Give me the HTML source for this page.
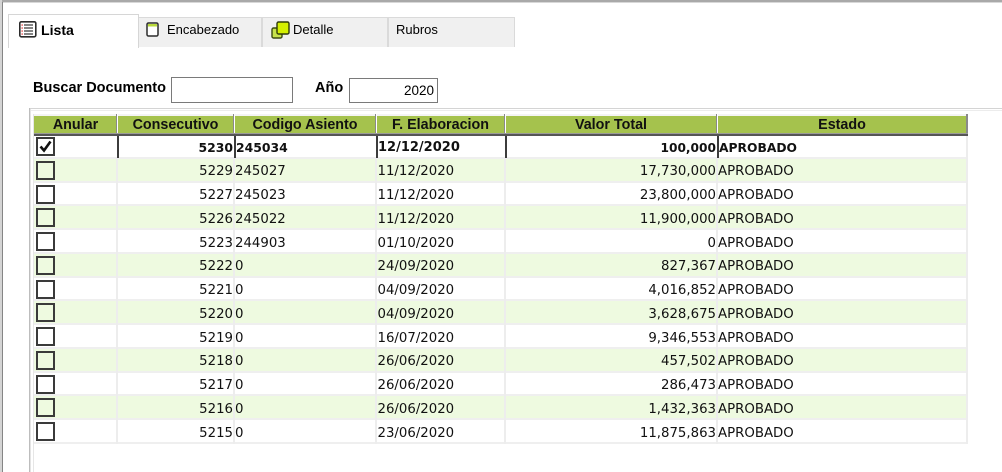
<!DOCTYPE html>
<html><head><meta charset="utf-8">
<style>
*{margin:0;padding:0;box-sizing:border-box}
html,body{width:1002px;height:472px;overflow:hidden;background:#fff;position:relative;font-family:"Liberation Sans",sans-serif}
.a{position:absolute}
.tab{position:absolute;top:17px;height:30px;background:#f0f0f0;border:1px solid #dadada;border-bottom:none}
.tl{position:absolute;font-size:13px;color:#000;line-height:16px;top:22px}
.lbl{position:absolute;font-weight:bold;font-size:14.5px;line-height:18px;color:#000}
.hd{position:absolute;top:116px;height:17px;background:#a5c24d;font-weight:bold;font-size:14.3px;line-height:18px;text-align:center;color:#111;overflow:hidden;white-space:nowrap}
.hs{position:absolute;top:114px;height:21px;width:1px;background:#8a8a8a}
.hw{position:absolute;top:114px;height:21px;width:1px;background:#fff}
.row{position:absolute;left:34px;width:933px;height:23.75px}
.c{position:absolute;top:1.5px;height:22px;line-height:24.5px;font-family:"DejaVu Sans",sans-serif;font-size:13.3px;color:#111;white-space:nowrap}
.b{top:0;font-weight:bold}
.r{text-align:right}
.cb{position:absolute;left:2px;top:2px;width:19px;height:19px;border:2px solid #3a3a3a}
.sep{position:absolute;left:0;bottom:0;width:933px;height:2px;background:#efefef}
.vl{position:absolute;width:2px;background:#ededed}
.dk{position:absolute;top:136px;height:22px;width:2px;background:#3c3c3c}
</style></head><body>
<!-- window chrome -->
<div class="a" style="left:0;top:0;width:1002px;height:2px;background:#a9a9a9"></div>
<div class="a" style="left:0;top:2px;width:1002px;height:1px;background:#d8d8d8"></div>
<div class="a" style="left:0;top:0;width:2px;height:472px;background:#d4d4d4"></div>
<div class="a" style="left:2px;top:2px;width:1px;height:470px;background:#858585"></div>

<!-- tabs -->
<div class="a" style="left:138px;top:46px;width:377px;height:1px;background:#dadada"></div>
<div class="tab" style="left:138px;width:124px"></div>
<div class="tab" style="left:262px;width:126px"></div>
<div class="tab" style="left:388px;width:127px"></div>
<div class="a" style="left:8px;top:14px;width:131px;height:34px;background:#fff;border:1px solid #d6d6d6;border-bottom:none"></div>

<!-- Lista icon -->
<svg class="a" style="left:19px;top:21px" width="18" height="17" viewBox="0 0 18 17">
<rect x="0.8" y="0.8" width="16" height="15" rx="1.5" fill="#fff" stroke="#2b2b2b" stroke-width="1.6"/>
<g stroke="#333" stroke-width="1.2"><line x1="5" y1="4" x2="14" y2="4"/><line x1="5" y1="7" x2="14" y2="7"/><line x1="5" y1="10" x2="14" y2="10"/><line x1="5" y1="13" x2="14" y2="13"/></g>
<g fill="#e03030"><rect x="2.5" y="3.4" width="1.3" height="1.3"/><rect x="2.5" y="6.4" width="1.3" height="1.3"/><rect x="2.5" y="9.4" width="1.3" height="1.3"/><rect x="2.5" y="12.4" width="1.3" height="1.3"/></g>
</svg>
<div class="tl" style="left:41px;font-weight:bold;font-size:14.1px">Lista</div>

<!-- Encabezado icon -->
<svg class="a" style="left:146px;top:22px" width="13" height="15" viewBox="0 0 13 15">
<rect x="1" y="1" width="11" height="13" rx="1.5" fill="#fff" stroke="#2b2b2b" stroke-width="1.5"/>
<rect x="2" y="2" width="9" height="2.5" fill="#b8d93a"/>
</svg>
<div class="tl" style="left:167px">Encabezado</div>

<!-- Detalle icon -->
<svg class="a" style="left:271px;top:21px" width="20" height="19" viewBox="0 0 20 19">
<rect x="1" y="7" width="10" height="10" rx="1.5" fill="#c6e24a" stroke="#3b4a10" stroke-width="1.4"/>
<rect x="6" y="1" width="12" height="12" rx="1.5" fill="#d4f000" stroke="#2e3a08" stroke-width="1.4"/>
</svg>
<div class="tl" style="left:293px">Detalle</div>
<div class="tl" style="left:396px">Rubros</div>

<!-- search -->
<div class="lbl" style="left:33px;top:79px">Buscar Documento</div>
<div class="a" style="left:171px;top:77px;width:122px;height:26px;border:1px solid #7a7a7a;background:#fff"></div>
<div class="lbl" style="left:315px;top:79px">Año</div>
<div class="a" style="left:349px;top:78px;width:89px;height:25px;border:1px solid #7a7a7a;background:#fff"></div>
<div class="a" style="left:352px;top:82px;width:82px;text-align:right;font-size:13.5px;line-height:17px">2020</div>

<!-- grid frame -->
<div class="a" style="left:29px;top:108px;width:973px;height:1px;background:#d4d4d4"></div>
<div class="a" style="left:29px;top:110px;width:973px;height:1px;background:#ececec"></div>
<div class="a" style="left:29px;top:108px;width:1px;height:364px;background:#bdbdbd"></div>
<div class="a" style="left:30px;top:109px;width:1px;height:363px;background:#e4e4e4"></div>
<div class="a" style="left:33px;top:114px;width:1px;height:358px;background:#e6e6e6"></div>

<!-- header -->
<div class="a" style="left:34px;top:114px;width:934px;height:2px;background:#f4f4f4"></div>
<div class="hd" style="left:34px;width:83px">Anular</div>
<div class="hd" style="left:117px;width:117px">Consecutivo</div>
<div class="hd" style="left:234px;width:142px">Codigo Asiento</div>
<div class="hd" style="left:376px;width:129px">F. Elaboracion</div>
<div class="hd" style="left:505px;width:212px">Valor Total</div>
<div class="hd" style="left:717px;width:250px">Estado</div>
<div class="hs" style="left:116px"></div><div class="hw" style="left:117px"></div>
<div class="hs" style="left:233px"></div><div class="hw" style="left:234px"></div>
<div class="hs" style="left:375px"></div><div class="hw" style="left:376px"></div>
<div class="hs" style="left:504px"></div><div class="hw" style="left:505px"></div>
<div class="hs" style="left:716px"></div><div class="hw" style="left:717px"></div>
<div class="a" style="left:966px;top:114px;width:2px;height:22px;background:#8a8a8a"></div>
<div class="a" style="left:34px;top:133px;width:934px;height:1px;background:#9a9a9a"></div>
<div class="a" style="left:34px;top:134px;width:934px;height:2px;background:#555"></div>

<!-- rows -->
<div class="row" style="top:136px;height:22.75px;background:#fff">
 <div class="cb" style="top:1px;background:#fff"><svg width="15" height="15" viewBox="0 0 15 15" style="position:absolute;left:0;top:0"><path d="M2.5 7.5 L6 11.5 L12.5 2.5" fill="none" stroke="#111" stroke-width="2.6"/></svg></div>
 <div class="c r b" style="left:85px;width:114px;font-size:12.4px">5230</div>
 <div class="c b" style="left:202px;font-size:12.4px">245034</div>
 <div class="c b" style="left:344px;font-size:13px">12/12/2020</div>
 <div class="c r b" style="left:473px;width:209px;font-size:12.2px">100,000</div>
 <div class="c b" style="left:685px;font-size:12.3px">APROBADO</div>
 <div class="sep"></div>
</div>
<div class="dk" style="left:117px"></div>
<div class="dk" style="left:233.5px"></div>
<div class="dk" style="left:376px"></div>
<div class="dk" style="left:504.5px"></div>
<div class="dk" style="left:716.5px"></div>

<div class="row" style="top:158.75px;background:#eefae0"><div class="cb" style="background:#eefae0"></div><div class="c r" style="left:85px;width:114px">5229</div><div class="c" style="left:201px">245027</div><div class="c" style="left:343.5px">11/12/2020</div><div class="c r" style="left:473px;width:209px">17,730,000</div><div class="c" style="left:684px">APROBADO</div><div class="sep"></div></div>
<div class="row" style="top:182.5px;background:#fff"><div class="cb" style="background:#fff"></div><div class="c r" style="left:85px;width:114px">5227</div><div class="c" style="left:201px">245023</div><div class="c" style="left:343.5px">11/12/2020</div><div class="c r" style="left:473px;width:209px">23,800,000</div><div class="c" style="left:684px">APROBADO</div><div class="sep"></div></div>
<div class="row" style="top:206.25px;background:#eefae0"><div class="cb" style="background:#eefae0"></div><div class="c r" style="left:85px;width:114px">5226</div><div class="c" style="left:201px">245022</div><div class="c" style="left:343.5px">11/12/2020</div><div class="c r" style="left:473px;width:209px">11,900,000</div><div class="c" style="left:684px">APROBADO</div><div class="sep"></div></div>
<div class="row" style="top:230px;background:#fff"><div class="cb" style="background:#fff"></div><div class="c r" style="left:85px;width:114px">5223</div><div class="c" style="left:201px">244903</div><div class="c" style="left:343.5px">01/10/2020</div><div class="c r" style="left:473px;width:209px">0</div><div class="c" style="left:684px">APROBADO</div><div class="sep"></div></div>
<div class="row" style="top:253.75px;background:#eefae0"><div class="cb" style="background:#eefae0"></div><div class="c r" style="left:85px;width:114px">5222</div><div class="c" style="left:201px">0</div><div class="c" style="left:343.5px">24/09/2020</div><div class="c r" style="left:473px;width:209px">827,367</div><div class="c" style="left:684px">APROBADO</div><div class="sep"></div></div>
<div class="row" style="top:277.5px;background:#fff"><div class="cb" style="background:#fff"></div><div class="c r" style="left:85px;width:114px">5221</div><div class="c" style="left:201px">0</div><div class="c" style="left:343.5px">04/09/2020</div><div class="c r" style="left:473px;width:209px">4,016,852</div><div class="c" style="left:684px">APROBADO</div><div class="sep"></div></div>
<div class="row" style="top:301.25px;background:#eefae0"><div class="cb" style="background:#eefae0"></div><div class="c r" style="left:85px;width:114px">5220</div><div class="c" style="left:201px">0</div><div class="c" style="left:343.5px">04/09/2020</div><div class="c r" style="left:473px;width:209px">3,628,675</div><div class="c" style="left:684px">APROBADO</div><div class="sep"></div></div>
<div class="row" style="top:325px;background:#fff"><div class="cb" style="background:#fff"></div><div class="c r" style="left:85px;width:114px">5219</div><div class="c" style="left:201px">0</div><div class="c" style="left:343.5px">16/07/2020</div><div class="c r" style="left:473px;width:209px">9,346,553</div><div class="c" style="left:684px">APROBADO</div><div class="sep"></div></div>
<div class="row" style="top:348.75px;background:#eefae0"><div class="cb" style="background:#eefae0"></div><div class="c r" style="left:85px;width:114px">5218</div><div class="c" style="left:201px">0</div><div class="c" style="left:343.5px">26/06/2020</div><div class="c r" style="left:473px;width:209px">457,502</div><div class="c" style="left:684px">APROBADO</div><div class="sep"></div></div>
<div class="row" style="top:372.5px;background:#fff"><div class="cb" style="background:#fff"></div><div class="c r" style="left:85px;width:114px">5217</div><div class="c" style="left:201px">0</div><div class="c" style="left:343.5px">26/06/2020</div><div class="c r" style="left:473px;width:209px">286,473</div><div class="c" style="left:684px">APROBADO</div><div class="sep"></div></div>
<div class="row" style="top:396.25px;background:#eefae0"><div class="cb" style="background:#eefae0"></div><div class="c r" style="left:85px;width:114px">5216</div><div class="c" style="left:201px">0</div><div class="c" style="left:343.5px">26/06/2020</div><div class="c r" style="left:473px;width:209px">1,432,363</div><div class="c" style="left:684px">APROBADO</div><div class="sep"></div></div>
<div class="row" style="top:420px;background:#fff"><div class="cb" style="background:#fff"></div><div class="c r" style="left:85px;width:114px">5215</div><div class="c" style="left:201px">0</div><div class="c" style="left:343.5px">23/06/2020</div><div class="c r" style="left:473px;width:209px">11,875,863</div><div class="c" style="left:684px">APROBADO</div><div class="sep"></div></div>

<!-- body column lines -->
<div class="vl" style="left:116px;top:158.75px;height:285px"></div>
<div class="vl" style="left:233px;top:158.75px;height:285px"></div>
<div class="vl" style="left:375px;top:158.75px;height:285px"></div>
<div class="vl" style="left:504px;top:158.75px;height:285px"></div>
<div class="vl" style="left:716px;top:158.75px;height:285px"></div>
<div class="vl" style="left:966px;top:136px;height:308px"></div>
</body></html>
